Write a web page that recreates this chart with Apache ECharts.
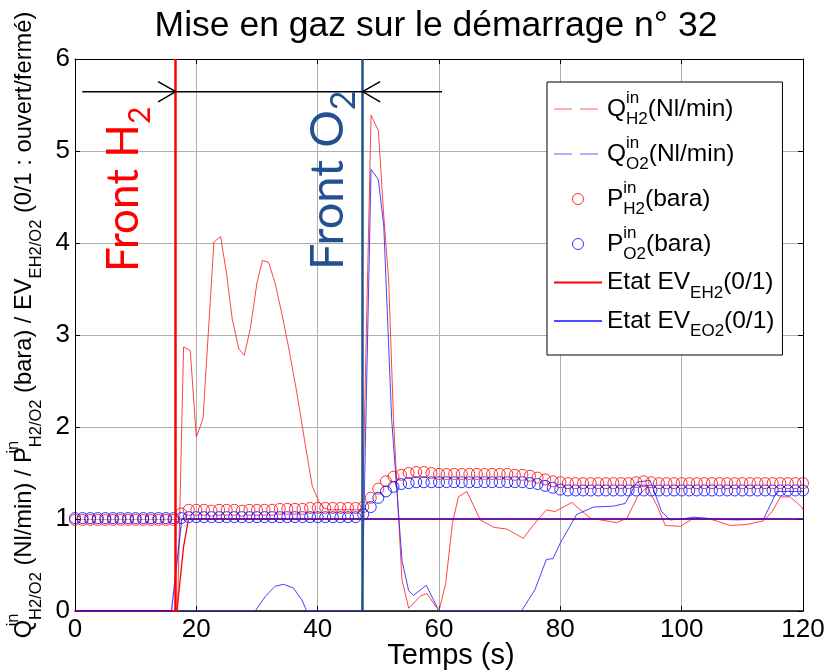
<!DOCTYPE html>
<html><head><meta charset="utf-8">
<script src="https://cdn.jsdelivr.net/npm/echarts@6/dist/echarts.min.js"></script>
<style>html,body{margin:0;padding:0;background:#fff}#c{width:825px;height:671px}</style>
</head><body><div id="c"></div>
<script>
// ---- data ----
const xTicks = [0, 20, 40, 60, 80, 100, 120];
const yTicks = [0, 1, 2, 3, 4, 5, 6];

const qH2Time = [0,16.9,17.9,19.0,20.0,21.1,22.9,24.0,25.0,25.9,27.0,27.9,28.9,30.0,30.9,31.9,33.0,34.1,35.2,36.6,38.0,39.1,40.2,41.0,42.0,44.0,46.0,47.4,48.8,50.0,50.9,51.7,52.5,53.3,53.9,55.0,56.9,58.0,60.0,61.1,62.2,63.2,64.6,66.8,69.0,71.2,72.8,73.9,75.5,77.7,79.1,81.9,84.9,89.3,91.0,92.7,94.3,95.9,97.3,99.8,102.0,104.2,108.0,110.7,113.5,114.9,116.3,117.9,119.8,120];
const qH2Val  = [0,0,2.87,2.83,1.89,2.09,4.01,4.07,3.66,3.18,2.85,2.78,3.07,3.57,3.81,3.79,3.56,3.23,2.87,2.36,1.79,1.36,1.19,1.12,1.10,1.10,1.10,1.10,5.39,5.22,4.29,3.60,2.08,1.06,0.34,0.03,0.16,0.19,0.00,0.30,0.95,1.24,1.30,0.99,0.91,0.89,0.83,0.79,0.93,1.10,1.08,1.18,1.01,0.96,1.01,1.24,1.35,1.15,0.93,0.92,1.01,1.01,0.93,0.94,0.98,1.08,1.24,1.24,1.13,1.10];

const qO2Time = [0,29.7,31.4,33.0,34.4,36.0,37.4,38.2,47.3,48.8,50.0,50.9,52.2,53.9,55.0,55.8,57.9,60.0,73.6,75.8,77.7,78.8,80.0,82.7,85.5,88.8,90.7,92.6,94.8,96.7,98.1,100.0,102.0,105.0,109.0,113.5,115.7,120];
const qO2Val  = [0,0,0.16,0.27,0.29,0.25,0.12,0,0,4.80,4.69,4.18,2.08,0.55,0.22,0.17,0.28,0.00,0,0.23,0.56,0.57,0.74,1.05,1.13,1.14,1.17,1.40,1.42,1.08,0.99,1.00,1.02,1.00,0.99,1.00,1.30,1.30];

const pTime = [0,1.25,2.5,3.75,5,6.25,7.5,8.75,10,11.25,12.5,13.75,15,16.25,17.5,18.75,20,21.25,22.5,23.75,25,26.25,27.5,28.75,30,31.25,32.5,33.75,35,36.25,37.5,38.75,40,41.25,42.5,43.75,45,46.25,47.5,48.75,50,51.25,52.5,53.75,55,56.25,57.5,58.75,60,61.25,62.5,63.75,65,66.25,67.5,68.75,70,71.25,72.5,73.75,75,76.25,77.5,78.75,80,81.25,82.5,83.75,85,86.25,87.5,88.75,90,91.25,92.5,93.75,95,96.25,97.5,98.75,100,101.25,102.5,103.75,105,106.25,107.5,108.75,110,111.25,112.5,113.75,115,116.25,117.5,118.75,120];
const pH2Val = [0.99,0.99,0.99,0.99,0.99,0.99,0.99,0.99,0.99,0.99,0.99,0.99,0.99,0.99,
  1.06,1.10,
  1.10,1.10,1.09,1.10,1.10,1.10,1.09,1.10,1.10,1.10,1.10,1.11,1.11,1.11,1.11,1.12,1.12,1.12,1.12,1.12,1.12,1.12,
  1.13,1.23,1.33,1.41,1.46,1.48,1.50,1.51,1.51,1.50,1.49,
  1.49,1.49,1.49,1.49,1.49,1.49,1.49,1.49,1.49,1.48,1.48,
  1.47,1.45,1.43,1.41,1.40,
  1.39,1.39,1.39,1.39,1.39,1.39,1.39,1.39,1.39,1.40,1.41,1.40,
  1.39,1.39,1.39,1.39,1.39,1.39,1.39,1.39,1.39,1.39,1.39,1.39,1.39,1.39,1.39,1.39,1.39,1.39,1.39,1.39];
const pO2Val = [1.01,1.01,1.01,1.01,1.01,1.01,1.01,1.01,1.01,1.01,1.01,1.01,1.01,1.01,1.01,
  1.02,1.02,1.02,1.02,1.02,1.02,1.02,1.02,1.02,1.02,1.02,1.02,1.02,1.02,1.02,1.02,1.02,1.02,1.02,1.02,1.02,1.02,1.02,
  1.05,1.13,1.23,1.30,1.35,1.38,1.39,
  1.40,1.40,1.40,1.40,1.40,1.40,1.40,1.40,1.40,1.40,1.40,1.40,1.40,1.40,1.40,
  1.39,1.38,1.36,1.34,1.32,
  1.31,1.31,1.31,1.31,1.31,1.31,1.31,1.31,1.31,1.31,1.31,1.31,1.31,1.31,1.31,1.31,
  1.31,1.31,1.31,1.31,1.31,1.31,1.31,1.31,1.31,1.31,1.31,1.31,1.31,1.31,1.31,1.31];

const evH2Time = [0,16.8,17.9,18.7,120];
const evH2Val  = [0,0,0.70,1,1];
const evO2Time = [0,15.9,17.6,120];
const evO2Val  = [0,0,1,1];

// annotations (data units)
const frontH2 = 16.6, frontO2 = 47.4;
const arrowY = 5.645, arrowFrom = 1.2, arrowTo = 60.5;
const headDx = 2.9, headDy = 0.11;

const seriesNames = ['QinH2 (Nl/min)','QinO2 (Nl/min)','PinH2 (bara)','PinO2 (bara)','Etat EV EH2 (0/1)','Etat EV EO2 (0/1)'];
const legendRich = {
  [seriesNames[0]]: '{m|Q}{sup|in}{sub|H2}{m|(Nl/min)}',
  [seriesNames[1]]: '{m|Q}{sup|in}{sub|O2}{m|(Nl/min)}',
  [seriesNames[2]]: '{m|P}{sup|in}{sub|H2}{m|(bara)}',
  [seriesNames[3]]: '{m|P}{sup|in}{sub|O2}{m|(bara)}',
  [seriesNames[4]]: '{m|Etat EV}{sub|EH2}{m|(0/1)}',
  [seriesNames[5]]: '{m|Etat EV}{sub|EO2}{m|(0/1)}'
};
const titleText = 'Mise en gaz sur le démarrage n° 32';
const xName = 'Temps (s)';
const yName = '{m|Q}{sup|in}{sub|H2/O2}{m| (Nl/min) / P}{sup|in}{sub|H2/O2}{m| (bara) / EV}{sub|EH2/O2}{m| (0/1 : ouvert/fermé)}';

// ---- chart ----
const FONT = '"Liberation Sans", Arial, sans-serif';
const zip = (a, b) => a.map((v, i) => [v, b[i]]);
const RED = '#ff0000', BLUE = '#0000ff', NAVY = '#24508f';

const chart = echarts.init(document.getElementById('c'));
const gridL = 75, gridT = 59, gridR = 22, gridB = 60;

const richSS = (main, sub, lh) => ({
  m: {fontSize: main, fontFamily: FONT, color: '#000', lineHeight: lh, verticalAlign: 'middle'},
  sup: {fontSize: sub, fontFamily: FONT, color: '#000', width: 0, lineHeight: sub, verticalAlign: 'top'},
  sub: {fontSize: sub, fontFamily: FONT, color: '#000', lineHeight: sub, verticalAlign: 'bottom'}
});
const noDot = {opacity: 0};

const option = {
  animation: false,
  backgroundColor: '#fff',
  title: {
    text: titleText, left: 431, top: 3, textAlign: 'center',
    textStyle: {fontSize: 35.5, fontWeight: 'normal', fontFamily: FONT, color: '#000'}
  },
  grid: {left: gridL, top: gridT, right: gridR, bottom: gridB, containLabel: false, outerBoundsMode: 'none'},
  legend: {
    orient: 'vertical', left: 547, top: 82, padding: [8, 8, 15, 6],
    itemWidth: 48, itemHeight: 11, itemGap: 7,
    backgroundColor: '#fff', borderColor: '#000', borderWidth: 1, borderRadius: 0,
    selectedMode: false,
    formatter: n => legendRich[n],
    textStyle: {fontFamily: FONT, fontSize: 24, color: '#000', rich: richSS(24.5, 17, 38)},
    data: [
      {name: seriesNames[0], itemStyle: noDot, lineStyle: {type: [18, 8], color: '#ff5050', width: 1}},
      {name: seriesNames[1], itemStyle: noDot, lineStyle: {type: [18, 8], color: '#5050ff', width: 1}},
      {name: seriesNames[2], icon: 'circle', itemStyle: {color: 'transparent', borderColor: RED, borderWidth: 1}},
      {name: seriesNames[3], icon: 'circle', itemStyle: {color: 'transparent', borderColor: BLUE, borderWidth: 1}},
      {name: seriesNames[4], itemStyle: noDot},
      {name: seriesNames[5], itemStyle: noDot}
    ]
  },
  xAxis: [{
    type: 'value', min: xTicks[0], max: xTicks[xTicks.length - 1], interval: 20,
    name: xName, nameLocation: 'middle', nameGap: 30, nameMoveOverlap: false,
    nameTextStyle: {fontSize: 29, fontFamily: FONT, color: '#000', padding: [0, 0, 0, 24]},
    axisLine: {onZero: false, lineStyle: {color: '#000', width: 1.5}},
    axisTick: {inside: true, length: 5, lineStyle: {color: '#000'}},
    axisLabel: {fontSize: 26, fontFamily: FONT, color: '#000', margin: 6},
    splitLine: {show: true, lineStyle: {color: '#b0b0b0', width: 1}}
  }, {
    type: 'value', position: 'top', min: xTicks[0], max: xTicks[xTicks.length - 1], interval: 20,
    axisLine: {onZero: false, lineStyle: {color: '#000', width: 1}},
    axisTick: {inside: true, length: 5, lineStyle: {color: '#000'}},
    axisLabel: {show: false}, splitLine: {show: false}
  }],
  yAxis: [{
    type: 'value', min: yTicks[0], max: yTicks[yTicks.length - 1], interval: 1,
    name: yName, nameLocation: 'middle', nameRotate: 90, nameGap: 28,
    nameTextStyle: {fontFamily: FONT, color: '#000', padding: [0, 0, 0, 20], rich: richSS(23.7, 16.5, 40)},
    axisLine: {onZero: false, lineStyle: {color: '#000', width: 1}},
    axisTick: {inside: true, length: 5, lineStyle: {color: '#000'}},
    axisLabel: {fontSize: 26, fontFamily: FONT, color: '#000', margin: 5},
    splitLine: {show: true, lineStyle: {color: '#b0b0b0', width: 1}}
  }, {
    type: 'value', position: 'right', min: yTicks[0], max: yTicks[yTicks.length - 1], interval: 1,
    axisLine: {onZero: false, lineStyle: {color: '#000', width: 1}},
    axisTick: {inside: true, length: 5, lineStyle: {color: '#000'}},
    axisLabel: {show: false}, splitLine: {show: false}
  }],
  series: [
    {
      name: seriesNames[0], type: 'line', data: zip(qH2Time, qH2Val), symbol: 'none',
      lineStyle: {color: '#ff3030', width: 1, opacity: 0.9}, itemStyle: {color: '#ff3030'}, z: 3,
      markLine: {
        silent: true, symbol: ['none', 'none'], label: {show: false},
        lineStyle: {color: RED, width: 2.5, type: 'solid'},
        data: [{xAxis: frontH2}], z: 6
      }
    },
    {
      name: seriesNames[1], type: 'line', data: zip(qO2Time, qO2Val), symbol: 'none',
      lineStyle: {color: '#3030ff', width: 1, opacity: 0.9}, itemStyle: {color: '#3030ff'}, z: 3,
      markLine: {
        silent: true, symbol: ['none', 'none'], label: {show: false},
        lineStyle: {color: NAVY, width: 2.5, type: 'solid'},
        data: [{xAxis: frontO2}], z: 6
      }
    },
    {
      name: seriesNames[2], type: 'scatter', data: zip(pTime, pH2Val), symbol: 'circle', symbolSize: 11,
      itemStyle: {color: 'transparent', borderColor: RED, borderWidth: 1}, z: 4
    },
    {
      name: seriesNames[3], type: 'scatter', data: zip(pTime, pO2Val), symbol: 'circle', symbolSize: 11,
      itemStyle: {color: 'transparent', borderColor: BLUE, borderWidth: 1}, z: 4
    },
    {
      name: seriesNames[4], type: 'line', data: zip(evH2Time, evH2Val), symbol: 'none',
      lineStyle: {color: RED, width: 1.3}, itemStyle: {color: RED}, z: 5
    },
    {
      name: seriesNames[5], type: 'line', data: zip(evO2Time, evO2Val), symbol: 'none',
      lineStyle: {color: BLUE, width: 1.3, opacity: 0.7}, itemStyle: {color: BLUE}, z: 5
    },
    {
      name: 'arrow', type: 'line', symbol: 'none', silent: true, z: 7,
      data: [[arrowFrom, arrowY], [arrowTo, arrowY]],
      lineStyle: {color: '#000', width: 1.5}
    },
    {
      name: 'arrowH2', type: 'line', symbol: 'none', silent: true, z: 7,
      data: [[frontH2 - headDx, arrowY + headDy], [frontH2, arrowY], [frontH2 - headDx, arrowY - headDy]],
      lineStyle: {color: '#000', width: 1.5}
    },
    {
      name: 'arrowO2', type: 'line', symbol: 'none', silent: true, z: 7,
      data: [[frontO2 + headDx, arrowY + headDy], [frontO2, arrowY], [frontO2 + headDx, arrowY - headDy]],
      lineStyle: {color: '#000', width: 1.5}
    }
  ],
  graphic: [
    {
      type: 'text', x: 124, y: 272, rotation: Math.PI / 2, z: 100, silent: true,
      style: {
        text: '{m|Front H}{s|2}', x: 0, y: 0, align: 'left', verticalAlign: 'middle',
        rich: {
          m: {fontSize: 44, fontFamily: 'Lato', fill: RED, lineHeight: 62, verticalAlign: 'middle'},
          s: {fontSize: 30, fontFamily: 'Lato', fill: RED, lineHeight: 30, verticalAlign: 'bottom'}
        }
      }
    },
    {
      type: 'text', x: 328, y: 270, rotation: Math.PI / 2, z: 100, silent: true,
      style: {
        text: '{m|Front O}{s|2}', x: 0, y: 0, align: 'left', verticalAlign: 'middle',
        rich: {
          m: {fontSize: 47, fontFamily: 'Lato', fill: NAVY, lineHeight: 66, verticalAlign: 'middle'},
          s: {fontSize: 34, fontFamily: 'Lato', fill: NAVY, lineHeight: 34, verticalAlign: 'bottom'}
        }
      }
    }
  ]
};
chart.setOption(option);
</script>
</body></html>
